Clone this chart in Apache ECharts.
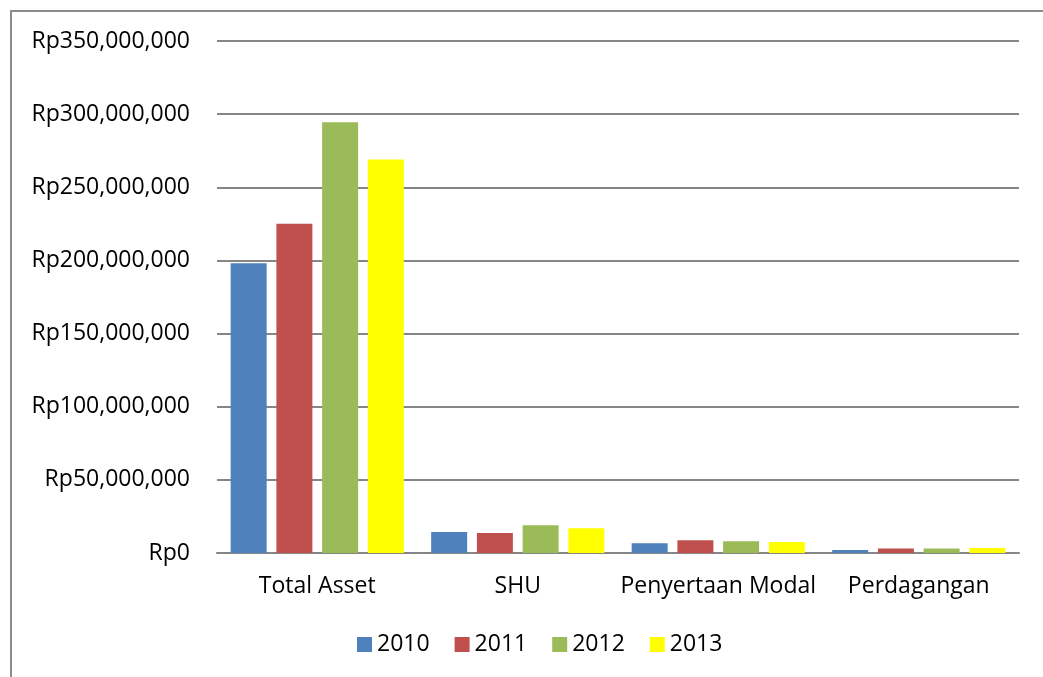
<!DOCTYPE html>
<html>
<head>
<meta charset="utf-8">
<script src="https://cdn.jsdelivr.net/npm/echarts@6/dist/echarts.min.js"></script>
<style>
  html, body { margin: 0; padding: 0; background: #fff; }
  #chart { width: 1043px; height: 677px; }
</style>
</head>
<body>
<div id="chart"></div>
<script>
  // categories and yearly values (Rupiah)
  var categories = ['Total Asset', 'SHU', 'Penyertaan Modal', 'Perdagangan'];
  var years = ['2010', '2011', '2012', '2013'];
  var v2010 = [198000000, 14300000, 6600000, 2100000];
  var v2011 = [225000000, 13700000, 8700000, 3000000];
  var v2012 = [294500000, 18900000, 8000000, 3000000];
  var v2013 = [269000000, 16900000, 7500000, 3400000];
  var colors = ['#4f81bd', '#c0504d', '#9bbb59', '#ffff00'];

  var font = '"Open Sans", sans-serif';

  function rupiah(v) {
    return 'Rp' + v.toString().replace(/\B(?=(\d{3})+(?!\d))/g, ',');
  }

  var allValues = [v2010, v2011, v2012, v2013];
  var series = years.map(function (y, i) {
    return {
      name: y,
      type: 'bar',
      data: allValues[i],
      barWidth: 36,
      barGap: '27%',
      itemStyle: { color: colors[i] }
    };
  });

  var chart = echarts.init(document.getElementById('chart'));
  chart.setOption({
    animation: false,
    textStyle: { fontFamily: font },
    graphic: [{
      type: 'rect',
      shape: { x: 11, y: 11, width: 1100, height: 800 },
      style: { fill: 'none', stroke: '#8c8c8c', lineWidth: 2 },
      silent: true
    }],
    grid: { left: 217, right: 24, top: 41, bottom: 124 },
    legend: {
      data: years,
      top: 628,
      left: 352,
      itemWidth: 15,
      itemHeight: 15,
      itemGap: 25,
      icon: 'rect',
      textStyle: { fontSize: 23, color: '#000', fontFamily: font }
    },
    xAxis: {
      type: 'category',
      data: categories,
      axisLine: { lineStyle: { color: '#868686', width: 2 } },
      axisTick: { show: false },
      axisLabel: { interval: 0, fontSize: 23, color: '#000', margin: 22, fontFamily: font }
    },
    yAxis: {
      type: 'value',
      min: 0,
      max: 350000000,
      interval: 50000000,
      axisLine: { show: false },
      axisTick: { show: false },
      splitLine: { lineStyle: { color: '#868686', width: 2 } },
      axisLabel: {
        fontSize: 23, color: '#000', margin: 27, fontFamily: font,
        formatter: rupiah
      }
    },
    series: series
  });
</script>
</body>
</html>
